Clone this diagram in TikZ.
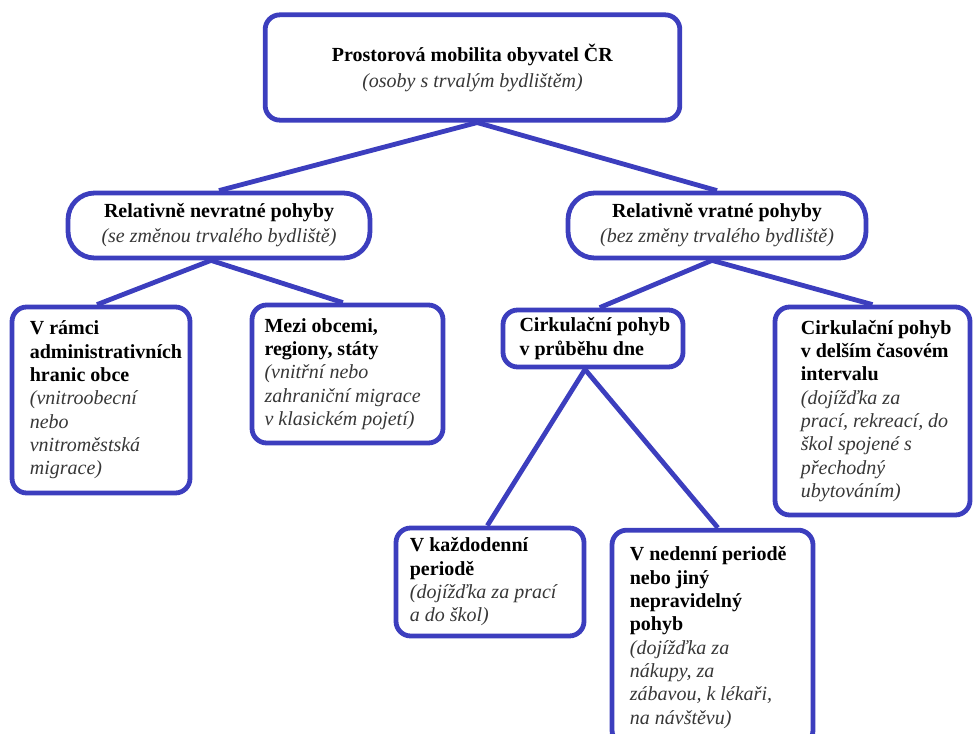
\documentclass[tikz,border=0pt]{standalone}
\usepackage{fontspec}
\setmainfont{Liberation Serif}
\usetikzlibrary{backgrounds}
\definecolor{bblue}{RGB}{60,62,190}
\definecolor{itgray}{RGB}{55,55,55}
\newcommand{\iz}[1]{{\itshape\color{itgray}#1}}
\begin{document}
\begin{tikzpicture}[x=0.75pt,y=-0.75pt,
  box/.style={draw=bblue,line width=3.6pt,fill=white,inner sep=0pt,rounded corners=11pt},
  midbox/.style={box,rounded corners=20pt},
  txt/.style={inner sep=0pt,align=left,anchor=west,font=\fontsize{15}{17.5}\selectfont},
  ctxt/.style={align=center},
  link/.style={draw=bblue,line width=3.6pt}]
\useasboundingbox (0,0) rectangle (978,734);

% top
\node[box,ctxt,font=\fontsize{15}{19.5}\selectfont,minimum width=311pt,minimum height=79pt] (top) at (472.5,67.5)
  {\textbf{Prostorová mobilita obyvatel ČR}\\\iz{(osoby s trvalým bydlištěm)}};

% middle level
\node[midbox,ctxt,font=\fontsize{15}{18.75}\selectfont,minimum width=226.5pt,minimum height=48.75pt] (LM) at (219,225.5)
  {\textbf{Relativně nevratné pohyby}\\\iz{(se změnou trvalého bydliště)}};
\node[midbox,ctxt,font=\fontsize{15}{18.75}\selectfont,minimum width=223.5pt,minimum height=48.75pt] (RM) at (717,225.5)
  {\textbf{Relativně vratné pohyby}\\\iz{(bez změny trvalého bydliště)}};

% lower level boxes
\node[box,minimum width=133.5pt,minimum height=139.5pt] (L1) at (101,400) {};
\node[txt] (L1t) at ([xshift=15pt]L1.west)
  {\textbf{V rámci}\\\textbf{administrativních}\\\textbf{hranic obce}\\\iz{(vnitroobecní}\\\iz{nebo}\\\iz{vnitroměstská}\\\iz{migrace)}};

\node[box,minimum width=143.25pt,minimum height=103.5pt] (L2) at (347.5,374) {};
\node[txt] (L2t) at ([xshift=11pt]L2.west)
  {\textbf{Mezi obcemi,}\\\textbf{regiony, státy}\\\iz{(vnitřní nebo}\\\iz{zahraniční migrace}\\\iz{v klasickém pojetí)}};

\node[box,minimum width=135pt,minimum height=42.75pt] (C1) at (593,338.5) {};
\node[txt,font=\fontsize{15}{18.5}\selectfont] (C1t) at ([xshift=14pt]C1.west)
  {\textbf{Cirkulační pohyb}\\\textbf{v průběhu dne}};

\node[box,minimum width=146.25pt,minimum height=156pt] (C2) at (872.5,411) {};
\node[txt] (C2t) at ([xshift=21pt]C2.west)
  {\textbf{Cirkulační pohyb}\\\textbf{v delším časovém}\\\textbf{intervalu}\\\iz{(dojížďka za}\\\iz{prací, rekreací, do}\\\iz{škol spojené s}\\\iz{přechodný}\\\iz{ubytováním)}};

\node[box,minimum width=141pt,minimum height=81pt] (D1) at (490,582) {};
\node[txt] (D1t) at ([xshift=12pt]D1.west)
  {\textbf{V každodenní}\\\textbf{periodě}\\\iz{(dojížďka za prací}\\\iz{a do škol)}};

\node[box,minimum width=150.75pt,minimum height=161pt] (D2) at (712.5,637.5) {};
\node[txt] (D2t) at ([xshift=15pt]D2.west)
  {\textbf{V nedenní periodě}\\\textbf{nebo jiný}\\\textbf{nepravidelný}\\\textbf{pohyb}\\\iz{(dojížďka za}\\\iz{nákupy, za}\\\iz{zábavou, k lékaři,}\\\iz{na návštěvu)}};

% connectors
\begin{pgfonlayer}{background}
\draw[link] ([xshift=3.5pt]top.south) -- (LM.north);
\draw[link] ([xshift=3.5pt]top.south) -- (RM.north);
\draw[link] ([xshift=-6pt]LM.south) -- ([xshift=-3pt]L1.north);
\draw[link] ([xshift=-6pt]LM.south) -- ([xshift=-3.5pt]L2.north);
\draw[link] ([xshift=-3.75pt]RM.south) -- ([xshift=5pt]C1.north);
\draw[link] ([xshift=-3.75pt]RM.south) -- (C2.north);
\draw[link] ([xshift=-6pt]C1.south) -- ([xshift=-2pt]D1.north);
\draw[link] ([xshift=-6pt]C1.south) -- ([xshift=4pt]D2.north);
\end{pgfonlayer}
\end{tikzpicture}
\end{document}
